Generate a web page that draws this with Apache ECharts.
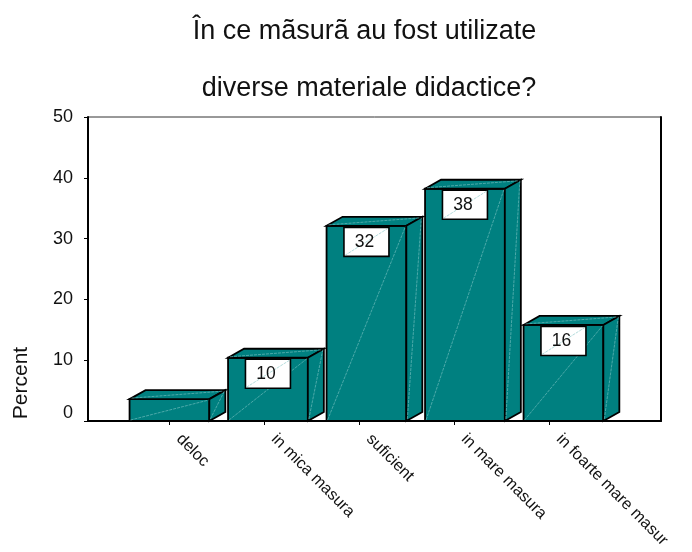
<!DOCTYPE html>
<html><head><meta charset="utf-8">
<style>html,body{margin:0;padding:0;background:#fff}#c{width:692px;height:552px}</style>
<script src="https://cdn.jsdelivr.net/npm/echarts@6/dist/echarts.min.js"></script>
</head><body><div id="c"></div>
<script>
const titleLines = ['În ce mãsurã au fost utilizate', 'diverse materiale didactice?'];
const categories = ['deloc', 'in mica masura', 'suficient', 'in mare masura', 'in foarte mare masur'];
const percents = [3.6, 10.4, 32.1, 38.2, 15.8];
const valueLabels = [null, '10', '32', '38', '16'];
const yTicks = [0, 50, 10];

const FONT = '"Liberation Sans", Arial, sans-serif';
const TEAL = '#008080', LIGHT = '#7fc4c4';
const DX = 16, DY = 9;

function renderBar(params, api) {
  const i = api.value(0), v = api.value(1);
  const c = api.coord([i, v]), b = api.coord([i, 0]);
  const w = api.size([1, 0])[0] * 0.81;
  const x0 = c[0] - w / 2, x1 = c[0] + w / 2, yt = c[1], yb = b[1];
  const edge = { stroke: '#000', lineWidth: 1.8, lineJoin: 'miter' };
  const poly = pts => ({ type: 'polygon', shape: { points: pts }, style: { fill: TEAL, ...edge } });
  const diag = (a, b2, c2, d) => ({
    type: 'line', shape: { x1: a, y1: b2, x2: c2, y2: d },
    style: { stroke: LIGHT, lineWidth: 0.6, lineDash: [3, 1] }
  });
  const kids = [
    poly([[x0, yb], [x1, yb], [x1, yt], [x0, yt]]),
    poly([[x0, yt], [x0 + DX, yt - DY], [x1 + DX, yt - DY], [x1, yt]]),
    poly([[x1, yb], [x1 + DX, yb - DY], [x1 + DX, yt - DY], [x1, yt]]),
    diag(x0 + 1, yb - 1, x1 - 1, yt + 1),
    diag(x0 + 2, yt - 1, x1 + DX - 2, yt - DY + 1),
    diag(x1 + 1, yb - 2, x1 + DX - 1, yt - DY + 1)
  ];
  const lab = valueLabels[i];
  if (lab) {
    const bw = 45, bh = 29, bx = c[0] - bw / 2, by = yt + 1.5;
    kids.push({ type: 'rect', shape: { x: bx, y: by, width: bw, height: bh },
      style: { fill: '#fff', stroke: '#000', lineWidth: 1.6 } });
    kids.push(diag(bx + 1, by + bh - 1, bx + bw - 1, by + 1));
    kids.push({ type: 'text', style: { x: bx + bw / 2 - 2, y: by + bh / 2 + 0.5, text: lab,
      fill: '#111', font: '17.5px ' + FONT, textAlign: 'center', textVerticalAlign: 'middle' } });
  }
  return { type: 'group', children: kids };
}

const chart = echarts.init(document.getElementById('c'), null, { renderer: 'canvas' });
const plot = { top: 117, height: 304, outerBoundsMode: 'none' };
const hiddenY = g => ({ type: 'value', gridIndex: g, min: yTicks[0], max: yTicks[1], show: false });
chart.setOption({
  animation: false,
  backgroundColor: '#fff',
  title: titleLines.map((t, k) => ({
    text: t, left: k ? 364 : 359.5, top: 13 + k * 57, textAlign: 'center',
    textStyle: { fontFamily: FONT, fontSize: 27, fontWeight: 'normal', color: '#111' }
  })),
  grid: [
    { left: 88, width: 573, ...plot, show: true, borderColor: '#333', borderWidth: 1, backgroundColor: 'transparent' },
    { left: 120.2, width: 492.5, ...plot },
    { left: 121.5, width: 475, ...plot }
  ],
  xAxis: [
    { type: 'category', gridIndex: 0, data: categories, position: 'bottom',
      axisLine: { show: true, lineStyle: { color: '#000', width: 2 } },
      axisTick: { show: false }, axisLabel: { show: false }, splitLine: { show: false } },
    { type: 'category', gridIndex: 1, data: categories, show: false },
    { type: 'category', gridIndex: 2, data: categories,
      axisLine: { show: true, lineStyle: { color: '#000', width: 2 } },
      axisTick: { show: true, alignWithLabel: true, length: 4, lineStyle: { color: '#000', width: 1 } },
      axisLabel: { interval: 0, rotate: -45, margin: 17, verticalAlign: 'bottom', padding: [0, 0, 0, 6], hideOverlap: false,
        fontFamily: FONT, fontSize: 16.3, color: '#111' } }
  ],
  yAxis: [
    { type: 'value', gridIndex: 0, min: yTicks[0], max: yTicks[1], interval: yTicks[2], position: 'left',
      axisLine: { show: true, lineStyle: { color: '#000', width: 2 } },
      axisTick: { show: true, length: 4, lineStyle: { color: '#000', width: 1 } },
      axisLabel: { margin: 15, fontFamily: FONT, fontSize: 18, color: '#111',
        formatter: v => (v === 0 ? '{zero|0}' : String(v)),
        rich: { zero: { fontFamily: FONT, fontSize: 18, color: '#111', padding: [0, 0, 16, 0] } } },
      splitLine: { show: false } },
    { type: 'value', gridIndex: 0, min: yTicks[0], max: yTicks[1], position: 'right',
      axisLine: { show: true, lineStyle: { color: '#000', width: 2 } },
      axisTick: { show: false }, axisLabel: { show: false }, splitLine: { show: false } },
    hiddenY(1),
    hiddenY(2)
  ],
  series: [{
    type: 'custom', xAxisIndex: 1, yAxisIndex: 2, clip: false,
    encode: { x: 0, y: 1 },
    data: percents.map((v, i) => [i, v]),
    renderItem: renderBar
  }],
  graphic: [{
    type: 'text', x: 21, y: 383, rotation: Math.PI / 2,
    style: { text: 'Percent', fill: '#111', font: '21px ' + FONT, textAlign: 'center', textVerticalAlign: 'middle' }
  }]
});
</script></body></html>
